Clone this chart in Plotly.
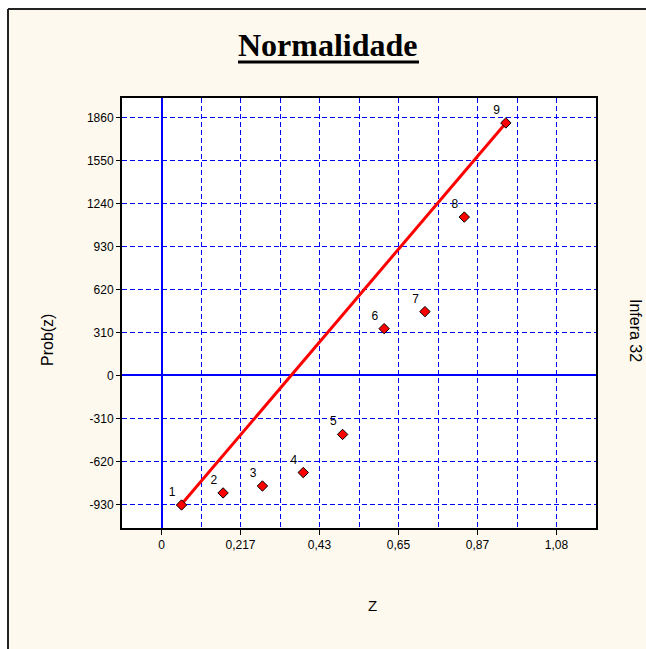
import plotly.graph_objects as go

# ---- data ----
point_labels = ["1", "2", "3", "4", "5", "6", "7", "8", "9"]
z_values = [0.055, 0.169, 0.277, 0.389, 0.497, 0.611, 0.723, 0.831, 0.945]
prob_values = [-935, -848, -798, -701, -426, 337, 460, 1142, 1821]
fit_x = [0.055, 0.945]
fit_y = [-930, 1821]

x_tick_vals = [0, 0.2168, 0.4336, 0.6504, 0.8672, 1.084]
x_tick_text = ["0", "0,217", "0,43", "0,65", "0,87", "1,08"]
y_tick_vals = [-930, -620, -310, 0, 310, 620, 930, 1240, 1550, 1860]
y_tick_text = ["-930", "-620", "-310", "0", "310", "620", "930", "1240", "1550", "1860"]

# ---- layout geometry (pixels) ----
W, H = 646, 649
L, R, T, B = 122, 50, 98, 121
PW, PH = W - L - R, H - T - B


def px(x):
    return (x - L) / PW


def py(y):
    return (H - B - y) / PH


BG = "#FDF9EE"
BLUE = "#0000FF"

fig = go.Figure()

fig.add_trace(go.Scatter(
    x=fit_x, y=fit_y, mode="lines",
    line=dict(color="#FF0000", width=3),
    hoverinfo="skip", showlegend=False,
))

fig.add_trace(go.Scatter(
    x=z_values, y=prob_values, mode="markers+text",
    text=point_labels, textposition="top left",
    textfont=dict(family="Liberation Sans, Arial", size=12, color="black"),
    marker=dict(symbol="diamond", size=8, color="#FF0000",
                line=dict(color="black", width=1)),
    showlegend=False,
))

grid = dict(gridcolor=BLUE, gridwidth=1, griddash="5px,3px")

fig.update_xaxes(
    range=[-0.1084, 1.1924],
    tickmode="array", tickvals=x_tick_vals, ticktext=x_tick_text,
    ticks="outside", ticklen=5, tickcolor="black",
    tickfont=dict(family="Liberation Sans, Arial", size=12, color="black"),
    showgrid=True, **grid,
    minor=dict(tick0=0, dtick=0.1084, showgrid=True, gridcolor=BLUE,
               gridwidth=1, griddash="5px,3px"),
    zeroline=True, zerolinecolor=BLUE, zerolinewidth=1.5,
    showline=True, linecolor="black", linewidth=2, mirror=True,
)
fig.update_yaxes(
    range=[-1101, 2001],
    tickmode="array", tickvals=y_tick_vals, ticktext=y_tick_text,
    ticks="outside", ticklen=4, tickcolor="black",
    tickfont=dict(family="Liberation Sans, Arial", size=12, color="black"),
    showgrid=True, **grid,
    zeroline=True, zerolinecolor=BLUE, zerolinewidth=1.5,
    showline=True, linecolor="black", linewidth=2, mirror=True,
)

annotations = [
    dict(text="<b>Normalidade</b>", x=px(328), y=py(45), xref="paper", yref="paper",
         showarrow=False, xanchor="center", yanchor="middle",
         font=dict(family="Liberation Serif, Times New Roman", size=32, color="black")),
    dict(text="Prob(z)", x=px(47), y=py(340), xref="paper", yref="paper",
         showarrow=False, textangle=-90, xanchor="center", yanchor="middle",
         font=dict(family="Liberation Sans, Arial", size=16, color="black")),
    dict(text="Z", x=px(372), y=py(605), xref="paper", yref="paper",
         showarrow=False, xanchor="center", yanchor="middle",
         font=dict(family="Liberation Sans, Arial", size=15, color="black")),
    dict(text="Infera 32", x=px(636), y=py(330), xref="paper", yref="paper",
         showarrow=False, textangle=90, xanchor="center", yanchor="middle",
         font=dict(family="Liberation Sans, Arial", size=16, color="black")),
]

shapes = [
    # white margins outside the panel frame
    dict(type="rect", xref="paper", yref="paper", x0=px(0), x1=px(8), y0=py(0), y1=py(649),
         fillcolor="white", line=dict(width=0)),
    dict(type="rect", xref="paper", yref="paper", x0=px(0), x1=px(646), y0=py(0), y1=py(8),
         fillcolor="white", line=dict(width=0)),
    # frame lines
    dict(type="line", xref="paper", yref="paper", x0=px(8), x1=px(646), y0=py(9), y1=py(9),
         line=dict(color="#222222", width=2)),
    dict(type="line", xref="paper", yref="paper", x0=px(8), x1=px(8), y0=py(9), y1=py(649),
         line=dict(color="#222222", width=2)),
    # title underline
    dict(type="line", xref="paper", yref="paper", x0=px(238), x1=px(419), y0=py(62), y1=py(62),
         line=dict(color="black", width=3)),
]

fig.update_layout(
    width=W, height=H,
    margin=dict(l=L, r=R, t=T, b=B),
    paper_bgcolor=BG, plot_bgcolor="white",
    annotations=annotations, shapes=shapes,
    showlegend=False,
)

fig.write_html("out.html", config={"displayModeBar": False})
